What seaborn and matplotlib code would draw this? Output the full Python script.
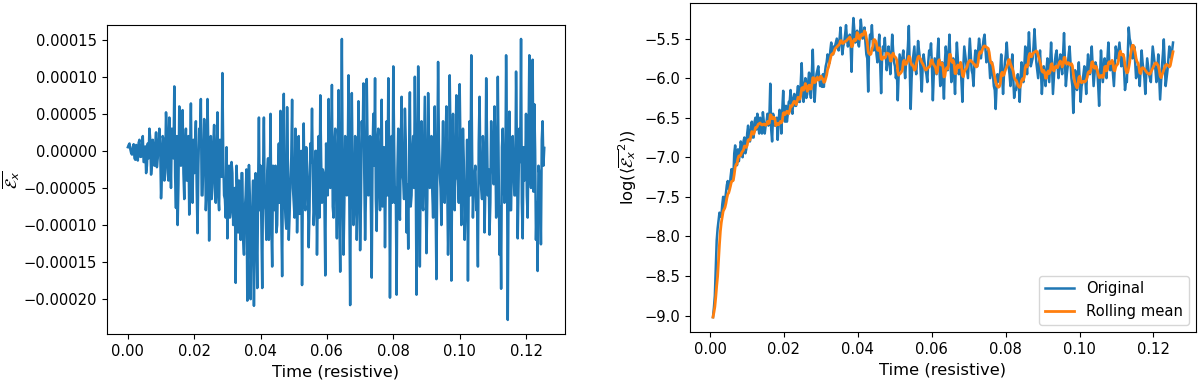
import numpy as np
import pandas as pd
import matplotlib
matplotlib.use("Agg")
import matplotlib.pyplot as plt
import seaborn as sns

# left panel: mean E_x (units of 1e-5)
# ex_vals: samples at t = 0, 0.0005, ...; ex_mid: samples in between (t = 0.00025, 0.00075, ...)
EX_T0, EX_DT = 0.0, 0.0005
ex_vals = [
    0.5, 1.0, -0.3, 0.5, -1.0, 0.8, -1.3, 1.5, -0.8, 2.0, -1.5, -3.0, 1.0, 3.0, -3.2, 1.5, -2.0, 2.5, -1.0, 3.0,
    -6.4, 2.0, -4.0, 5.2, -3.0, 4.5, -5.0, 2.0, 8.7, -7.7, -10.0, 6.0, -2.0, 5.5, -6.5, 3.0, -4.0, -8.6, 6.4, -7.0,
    -3.0, 4.0, -11.1, 3.0, 7.0, -6.0, 4.3, -8.0, 7.0, -12.1, 2.0, -5.0, 3.5, -7.0, 5.2, -8.0, 1.0, 10.5, -6.0, -9.0,
    -11.8, -2.0, -8.0, -3.0, -6.0, -17.8, -5.0, -4.0, -12.0, -3.0, -14.0, -6.0, -20.2, -1.9, -20.0, -8.0, -20.9, -3.0, -18.5, 4.5,
    -2.0, -18.5, 4.5, -8.0, -3.0, -12.0, 5.0, -15.6, -6.0, -2.0, -10.0, 1.0, 5.4, -16.9, 7.7, -9.0, 5.9, -12.0, -4.0, 6.9,
    -7.0, 3.0, -11.0, 2.0, -6.0, -18.1, 3.7, -8.0, -2.0, -13.0, 1.0, 5.7, -10.0, 0.0, -14.0, 2.0, 7.5, -7.0, -3.0, -16.8,
    -2.0, 7.0, -5.0, 8.9, -9.0, 3.0, -11.8, 8.2, -16.3, 15.1, -14.0, 2.0, -6.0, 10.2, -20.8, 7.8, -10.0, 2.0, -12.0, 6.7,
    -13.4, 4.0, 9.1, -12.0, 9.7, -6.0, 2.0, -17.1, 5.0, 9.8, -10.8, 3.0, -8.0, 6.9, -4.0, -13.0, 4.0, 9.8, -19.8, 2.0,
    11.4, -7.0, -19.4, 3.0, -9.3, 7.3, -4.0, 5.7, -11.0, -13.2, 7.9, -6.0, 2.0, 10.0, -19.4, 11.4, -15.6, 4.0, -8.0, 7.3,
    -13.8, 7.8, -5.0, 2.0, -9.0, 6.0, -17.3, 12.0, -3.0, -10.0, 4.0, -7.0, 6.0, -14.0, 10.2, -17.5, 5.0, -8.0, 7.5, -4.0,
    9.0, -10.0, 3.0, -12.0, -6.0, -17.5, 4.0, 12.9, -9.0, -3.0, -8.0, -15.6, 7.3, -5.0, 2.0, -11.0, 9.8, -6.0, -11.3, 4.0,
    -2.0, 6.0, -9.0, 10.0, -14.0, -18.6, 3.0, -7.0, 12.9, -22.8, 5.3, -8.0, 2.0, -6.0, 10.7, -11.8, 3.0, 15.1, -11.8, -4.0,
    5.0, -9.0, 12.9, -5.0, 12.3, 6.3, -12.0, -16.2, -3.0, -12.6, 4.0, 0.4,
]
ex_mid = [
    0.8, 0.2, -0.5, 0.9, -1.2, 0.3, 1.1, -0.8, 0.5, -1.5, 0.6, -2.0, -1.0, 1.5, -1.8, -0.5, 0.8, -2.2, 1.2, 0.5,
    -3.5, 1.5, -2.0, 2.5, -4.0, 0.5, 3.0, -1.0, -3.5, 2.0, -4.5, 1.0, 2.5, -3.0, 0.0, -4.0, 2.0, -1.5, -4.5, 1.5,
    1.0, -5.0, -2.0, 1.5, -6.0, -1.0, 2.0, -5.5, 0.5, -3.0, -6.5, 1.0, -4.0, 0.0, -6.0, 1.5, -3.5, -1.0, -6.5, 0.5,
    -4.0, -9.0, -1.5, -10.0, -5.0, -2.0, -11.0, -7.0, -3.0, -12.0, -8.0, -2.5, -10.0, -6.0, -13.0, -4.0, -9.0, -11.0, -5.0, -8.0,
    -10.0, -3.0, -7.0, -12.0, -1.0, -6.0, -10.0, -2.0, -8.0, -11.0, -3.5, -7.0, -9.0, -1.5, -6.0, -10.5, -3.0, -8.5, -1.0, -5.0,
    -9.0, -2.0, -6.0, -8.5, 0.0, -4.5, -7.0, 0.5, -5.0, -8.0, -1.5, -3.0, -7.5, 0.0, -5.5, -9.0, -1.0, -2.5, -7.0, 1.0,
    -6.0, 0.5, -3.5, -7.5, 1.0, -5.0, -2.0, -8.0, 0.0, -4.0, -7.0, 1.5, -2.5, -6.5, -1.0, -3.0, -8.0, 1.0, -5.5, -1.5,
    -7.0, 1.0, -3.0, -6.0, 0.5, -4.5, -8.0, 0.0, -2.0, -6.5, 1.5, -5.0, -1.0, -7.5, 0.5, -3.5, -6.0, -0.5, -4.0, -7.0,
    1.0, -5.0, -2.5, -7.0, 0.5, -3.0, -6.5, 1.5, -4.5, -1.0, -7.5, 0.0, -5.0, -2.0, -6.0, 1.0, -3.5, -7.0, -0.5, -4.0,
    -6.5, 1.5, -2.0, -5.5, 0.0, -7.0, -3.0, 1.0, -5.0, -1.5, -6.5, 0.5, -4.0, -8.0, 1.0, -2.5, -6.0, 0.0, -3.5, -7.0,
    0.5, -5.0, -1.5, -7.5, 1.5, -3.5, -6.0, 0.0, -4.5, -2.0, -7.0, 1.0, -3.0, -6.5, -0.5, -5.0, 1.5, -2.5, -7.0, -1.0,
    -4.5, 1.0, -6.0, -2.0, -7.5, 0.5, -3.5, -5.5, 1.5, -4.0, -8.0, 0.0, -2.5, -6.0, 1.0, -4.5, -1.5, -7.0, 0.5, -3.0,
    -6.0, 1.0, -3.5, -1.0, -5.5, 0.0, -7.0, -2.0, -4.5, 1.5, -2.0,
]

# right panel: log of mean E_x^2
# log_vals at t = 0.0008, 0.0013, ...; log_mid in between (t = 0.00105, 0.00155, ...)
LOG_T0, LOG_DT = 0.0008, 0.0005
log_vals = [
    -9.02, -8.75, -8.05, -7.8, -7.75, -7.6, -7.65, -7.45, -7.3, -7.4, -7.15, -7.25, -6.85, -7.1, -7.05, -6.8, -7.0, -6.75, -6.9, -6.6,
    -6.8, -6.55, -6.75, -6.5, -6.45, -6.7, -6.6, -6.43, -6.7, -6.55, -6.6, -6.07, -6.8, -6.5, -6.6, -6.78, -6.4, -6.7, -6.16, -6.55,
    -6.55, -6.3, -6.15, -6.45, -6.2, -6.35, -6.1, -6.3, -5.81, -6.3, -6.0, -6.2, -5.93, -6.25, -5.64, -6.3, -5.95, -5.85, -6.1, -6.11,
    -6.11, -5.85, -5.7, -5.81, -5.55, -5.7, -5.6, -5.5, -5.65, -5.36, -5.7, -5.55, -5.33, -5.6, -5.45, -5.92, -5.24, -5.55, -5.4, -5.6,
    -5.26, -5.5, -5.36, -5.7, -6.17, -5.45, -5.33, -5.65, -5.55, -5.8, -5.45, -6.19, -5.6, -5.49, -5.9, -5.6, -5.95, -5.45, -5.8, -6.0,
    -6.28, -5.7, -5.9, -5.65, -6.0, -5.75, -5.34, -6.39, -5.8, -5.6, -5.95, -5.53, -5.75, -6.17, -5.7, -5.9, -6.05, -5.65, -5.56, -6.28,
    -5.75, -5.95, -5.5, -6.1, -5.8, -6.26, -5.6, -5.9, -5.45, -6.05, -5.75, -6.2, -5.55, -5.95, -5.85, -6.3, -5.6, -5.8, -6.0, -5.5,
    -5.9, -6.1, -5.65, -5.85, -5.5, -5.75, -5.6, -5.45, -5.8, -5.65, -6.0, -5.8, -6.1, -6.39, -5.95, -6.05, -5.7, -6.2, -5.8, -5.55,
    -5.85, -6.1, -5.7, -6.25, -6.15, -5.95, -6.3, -5.8, -6.05, -5.6, -5.95, -5.42, -5.85, -5.75, -5.38, -5.8, -6.0, -5.65, -6.2, -5.85,
    -6.1, -5.75, -6.05, -5.55, -6.2, -5.8, -5.65, -6.0, -5.7, -5.95, -5.43, -6.1, -5.85, -5.6, -6.0, -6.44, -5.9, -6.15, -5.8, -6.3,
    -6.05, -5.85, -6.2, -5.7, -5.95, -5.6, -6.1, -5.8, -5.9, -6.35, -5.65, -6.05, -5.75, -6.0, -5.55, -5.9, -5.8, -6.1, -5.6, -5.75,
    -5.55, -5.85, -5.7, -6.15, -6.05, -5.36, -5.55, -5.75, -5.6, -6.0, -5.85, -6.1, -5.65, -5.9, -6.2, -5.75, -5.95, -6.05, -5.6, -5.8,
    -6.05, -5.7, -6.27, -5.85, -5.51, -6.1, -5.9, -5.6, -5.75, -5.55,
]
log_mid = [
    -8.9, -8.4, -7.9, -7.7, -7.75, -7.5, -7.55, -7.35, -7.4, -7.25, -7.3, -6.95, -7.05, -6.9, -6.95, -6.85, -6.8, -6.95, -6.7, -6.75,
    -6.65, -6.75, -6.55, -6.65, -6.6, -6.5, -6.7, -6.55, -6.6, -6.45, -6.5, -6.65, -6.45, -6.6, -6.5, -6.55, -6.45, -6.4, -6.5, -6.35,
    -6.45, -6.3, -6.4, -6.25, -6.35, -6.2, -6.3, -6.05, -6.15, -6.1, -6.25, -6.05, -6.15, -5.95, -6.05, -6.1, -5.9, -6.0, -6.05, -5.95,
    -5.95, -5.8, -5.75, -5.65, -5.7, -5.6, -5.55, -5.6, -5.5, -5.55, -5.6, -5.45, -5.5, -5.55, -5.6, -5.45, -5.4, -5.5, -5.55, -5.45,
    -5.4, -5.45, -5.55, -5.75, -5.6, -5.5, -5.55, -5.6, -5.7, -5.6, -5.8, -5.75, -5.65, -5.7, -5.8, -5.75, -5.7, -5.65, -5.85, -5.9,
    -5.95, -5.8, -5.75, -5.85, -5.8, -5.6, -5.9, -6.0, -5.7, -5.85, -5.75, -5.65, -5.95, -5.85, -5.8, -5.95, -5.8, -5.7, -5.85, -5.95,
    -5.85, -5.7, -5.85, -5.9, -6.0, -5.8, -5.75, -5.7, -5.8, -5.9, -5.95, -5.8, -5.75, -5.9, -6.05, -5.85, -5.7, -5.9, -5.75, -5.7,
    -5.95, -5.8, -5.75, -5.65, -5.6, -5.65, -5.5, -5.65, -5.7, -5.8, -5.9, -5.95, -6.15, -6.1, -6.0, -5.9, -5.95, -5.95, -5.7, -5.75,
    -5.95, -5.9, -6.0, -6.15, -6.05, -6.1, -6.0, -5.9, -5.85, -5.8, -5.7, -5.65, -5.8, -5.6, -5.6, -5.9, -5.8, -5.9, -6.0, -5.95,
    -5.9, -5.9, -5.8, -5.85, -6.0, -5.7, -5.85, -5.8, -5.85, -5.7, -5.8, -5.95, -5.7, -5.8, -6.1, -6.15, -6.0, -5.95, -6.05, -6.1,
    -5.95, -6.0, -5.9, -5.85, -5.8, -5.85, -5.95, -5.85, -6.1, -5.95, -5.85, -5.9, -5.9, -5.75, -5.8, -5.85, -5.95, -5.85, -5.7, -5.65,
    -5.7, -5.75, -5.9, -6.05, -5.7, -5.5, -5.65, -5.7, -5.8, -5.9, -5.95, -5.85, -5.8, -6.0, -5.95, -5.85, -6.0, -5.8, -5.7, -5.9,
    -5.9, -6.0, -6.05, -5.7, -5.8, -6.0, -5.75, -5.7, -5.65,
]
ROLL_WINDOW = 6

BLUE, ORANGE = "#1f77b4", "#ff7f0e"


def merge_series(t0, dt, vals, mids):
    t_main = t0 + dt * np.arange(len(vals))
    t_mid = t0 + dt / 2 + dt * np.arange(len(mids))
    df = pd.DataFrame({"t": np.concatenate([t_main, t_mid]),
                       "y": np.concatenate([vals, mids])})
    return df.sort_values("t").reset_index(drop=True)


df_ex = merge_series(EX_T0, EX_DT, ex_vals, ex_mid)
df_ex["y"] = df_ex["y"] * 1e-5

df_log = merge_series(LOG_T0, LOG_DT, log_vals, log_mid)
df_log["roll"] = df_log["y"].rolling(ROLL_WINDOW, min_periods=1).mean()

plt.rcParams["font.family"] = ["DejaVu Sans"]
plt.rcParams["xtick.labelsize"] = 10.6
plt.rcParams["ytick.labelsize"] = 10.6
plt.rcParams["axes.labelsize"] = 11.8

fig = plt.figure(figsize=(12, 3.83), dpi=100)
ax1 = fig.add_axes([0.0892, 0.128, 0.3817, 0.807])
ax2 = fig.add_axes([0.575, 0.133, 0.4217, 0.859])

sns.lineplot(data=df_ex, x="t", y="y", ax=ax1, color=BLUE, linewidth=1.8)
ax1.set_xlabel("Time (resistive)")
ax1.set_ylabel(r"$\overline{\mathcal{E}_x}$")
ax1.yaxis.set_label_coords(-0.185, 0.5)

sns.lineplot(data=df_log, x="t", y="y", ax=ax2, color=BLUE, linewidth=1.8, label="Original")
sns.lineplot(data=df_log, x="t", y="roll", ax=ax2, color=ORANGE, linewidth=2.0, label="Rolling mean")
ax2.set_xlabel("Time (resistive)")
ax2.set_ylabel(r"$\log(\langle\overline{\mathcal{E}_x}^2\rangle)$")
ax2.legend(loc="lower right", fontsize=10.6)

plt.savefig("out.png", dpi=100)
